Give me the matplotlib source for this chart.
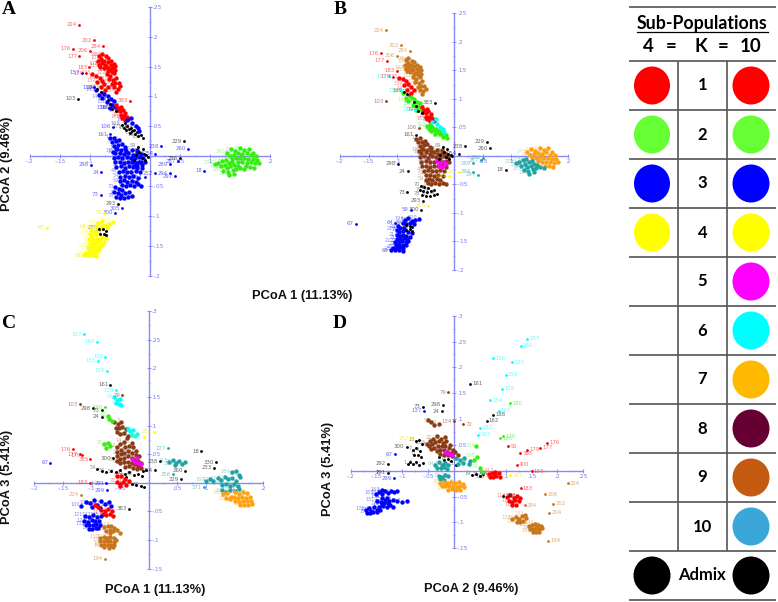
"""Four PCoA panels (A-D) with the sub-population key table on the right."""
import matplotlib
matplotlib.use("Agg")
import matplotlib.pyplot as plt
from matplotlib.patches import Ellipse

W, H = 778, 602
AXIS = "#8A8AF5"
COL = {"r": "#FF0000", "g": "#33EE11", "b": "#0000FF", "y": "#FFFF00", "m": "#FF00FF",
       "c": "#00FFFF", "o": "#FFA010", "8": "#8B3A14", "9": "#C8761C", "t": "#1FA3A3", "k": "#000000"}

# PCoA 1 / PCoA 2 clusters, shared by panels A and B
arm_top = [(-.085, .168), (-.08, .171), (-.074, .167), (-.086, .16), (-.081, .163), (-.076, .16), (-.07, .164),
           (-.065, .159), (-.085, .153), (-.08, .156), (-.075, .153), (-.07, .157), (-.065, .152), (-.06, .155),
           (-.083, .149), (-.077, .147), (-.072, .15), (-.067, .146), (-.062, .148), (-.058, .151), (-.07, .143),
           (-.063, .141), (-.058, .144)]
arm_mid = [(-.072, .138), (-.066, .135), (-.06, .139), (-.069, .129), (-.062, .128), (-.056, .131), (-.064, .121),
           (-.058, .122), (-.052, .123), (-.06, .115), (-.054, .113), (-.05, .117), (-.056, .108)]
arm_left = [(-.097, .137), (-.09, .134), (-.084, .131), (-.08, .126), (-.088, .124), (-.076, .12), (-.082, .115),
            (-.075, .111), (-.07, .116), (-.078, .106)]
arm_grey = [(-.09, .11), (-.085, .102), (-.08, .097), (-.076, .104), (-.07, .1), (-.065, .095), (-.072, .09),
            (-.064, .086), (-.06, .092), (-.058, .082), (-.067, .08)]
arm_black = [(-.088, .112), (-.082, .108), (-.07, .094), (-.066, .087), (-.063, .079), (-.056, .075)]
arm_red = [(-.056, .085), (-.052, .081), (-.048, .083), (-.055, .077), (-.05, .075), (-.045, .078), (-.041, .073),
           (-.049, .069), (-.044, .068), (-.039, .066), (-.036, .062), (-.042, .061), (-.047, .064)]
arm_low = [(-.047, .053), (-.042, .055), (-.044, .048), (-.038, .05), (-.035, .046), (-.04, .044), (-.031, .048),
           (-.03, .042), (-.026, .044), (-.033, .039), (-.025, .038), (-.021, .04), (-.02, .034), (-.015, .036),
           (-.012, .031)]
arm_low2 = [(-.03, .056), (-.024, .05), (-.02, .047), (-.018, .042), (-.038, .06), (-.032, .064)]
centre = [(-.055, .012), (-.041, .013), (-.03, .01), (-.021, .011), (-.058, .005), (-.05, .006), (-.043, .004),
          (-.036, .006), (-.029, .003), (-.022, .005), (-.015, .004), (-.06, -.002), (-.053, -.001), (-.046, -.003),
          (-.039, -.001), (-.032, -.002), (-.025, -.003), (-.018, -.001), (-.011, -.002), (-.058, -.01),
          (-.05, -.009), (-.043, -.011), (-.036, -.01), (-.029, -.008), (-.022, -.011), (-.015, -.009),
          (-.009, -.01), (-.056, -.018), (-.049, -.017), (-.042, -.019), (-.035, -.017), (-.028, -.018),
          (-.021, -.016), (-.014, -.019), (-.052, -.026), (-.045, -.025), (-.038, -.027), (-.031, -.026),
          (-.024, -.024), (-.017, -.027), (-.05, -.034), (-.042, -.033), (-.035, -.035), (-.028, -.033),
          (-.02, -.036)]
centre_up = [(-.066, .03), (-.06, .031), (-.064, .024), (-.057, .025), (-.051, .027), (-.06, .018), (-.053, .019),
             (-.047, .021), (-.042, .016), (-.056, .012), (-.048, .011), (-.04, .009), (-.062, .008)]
centre_low = [(-.05, -.042), (-.044, -.04), (-.038, -.043), (-.03, -.041), (-.024, -.043), (-.046, -.048),
              (-.04, -.05), (-.033, -.048), (-.027, -.05), (-.02, -.047), (-.015, -.05)]
lower_arm = [(-.058, -.052), (-.052, -.055), (-.046, -.057), (-.06, -.06), (-.054, -.062), (-.048, -.064),
             (-.041, -.062), (-.035, -.06), (-.057, -.068), (-.05, -.07), (-.043, -.07), (-.036, -.068),
             (-.03, -.066)]
centre_pink = [(-.03, -.009), (-.024, -.012), (-.018, -.01), (-.027, -.017), (-.021, -.019), (-.014, -.014)]
near_axis = [(-.02, .015), (-.012, .012), (-.018, .007), (-.01, .004), (-.006, .002), (-.003, -.001), (-.014, -.002),
             (-.009, -.006), (-.024, .002), (-.026, -.006)]
tail = [(-.086, -.112), (-.08, -.108), (-.074, -.114), (-.068, -.113), (-.062, -.11), (-.09, -.118), (-.084, -.12),
        (-.078, -.117), (-.071, -.12), (-.099, -.123), (-.094, -.127), (-.088, -.126), (-.08, -.134), (-.074, -.136)]
yellow = [(-.1, -.13), (-.096, -.134), (-.09, -.132), (-.101, -.138), (-.095, -.14), (-.089, -.139), (-.084, -.14),
          (-.1, -.145), (-.094, -.146), (-.088, -.144), (-.083, -.146), (-.077, -.143), (-.103, -.151), (-.097, -.151),
          (-.091, -.15), (-.085, -.151), (-.08, -.149), (-.102, -.157), (-.096, -.156), (-.09, -.156), (-.085, -.156),
          (-.107, -.161), (-.1, -.162), (-.095, -.16), (-.09, -.161), (-.11, -.165), (-.103, -.165), (-.096, -.165),
          (-.09, -.166)]
yellow_k = [(-.085, -.121), (-.078, -.122), (-.073, -.124), (-.084, -.13), (-.077, -.129), (-.073, -.132)]
green_r = [(.128, .006), (.135, .012), (.142, .009), (.15, .014), (.157, .011), (.165, .013), (.172, .006), (.133, .001),
           (.14, .003), (.147, .005), (.154, .004), (.161, .006), (.168, .002), (.176, .001), (.136, -.004),
           (.143, -.003), (.15, -.002), (.157, -.003), (.164, -.004), (.171, -.005), (.178, -.006), (.147, -.009),
           (.154, -.01), (.161, -.011), (.168, -.01), (.175, -.012), (.182, -.011), (.16, -.017), (.167, -.018),
           (.174, -.019)]
green_l = [(.108, -.013), (.114, -.011), (.12, -.008), (.126, -.006), (.118, -.017), (.125, -.014), (.131, -.011),
           (.137, -.009), (.128, -.019), (.134, -.017), (.14, -.014), (.146, -.016), (.122, -.024), (.13, -.026),
           (.138, -.023), (.144, -.021), (.15, -.019), (.157, -.021), (.132, -.031), (.14, -.029)]

# panel A/B clusters: points, colour in A, colour in B
AB_CLUSTERS = [(centre_up, "b", "8"), (centre, "b", "8"), (centre_low, "b", "8"), (lower_arm, "b", "k"),
               (centre_pink, "b", "m"), (near_axis, "k", "k"), (arm_top, "r", "9"), (arm_mid, "r", "9"),
               (arm_left, "r", "r"), (arm_grey, "b", "g"), (arm_red, "r", "r"), (arm_low, "k", "g"),
               (arm_low2, "b", "c"), (arm_black, "k", "k"), (tail, "y", "b"), (yellow, "y", "b"),
               (yellow_k, "k", "k"), (green_r, "g", "o"), (green_l, "g", "t")]
AB_IDS = ["224", "202", "284", "206", "176", "177", "183", "157", "179", "103", "383", "156", "158", "106", "161",
          "298", "24", "73", "293", "300", "305", "59", "67", "64", "69", "229", "260", "238", "254", "18", "252",
          "251", "287", "289", "294", "297", "296"]
AB_PC1 = [-.119, -.093, -.078, -.1, -.129, -.118, -.101, -.114, -.107, -.12, -.034, -.069, -.093, -.062, -.067,
          -.099, -.081, -.082, -.054, -.058, -.046, -.076, -.172, -.103, -.111, .057, .063, .019, .009, .09, .008,
          -.009, .047, .033, .033, .042, .05]
AB_PC2 = [.22, .194, .184, .176, .18, .167, .149, .14, .139, .096, .093, .081, .115, .049, .037, -.014, -.027, -.064,
          -.079, -.094, -.087, -.094, -.119, -.117, -.165, .025, .013, .017, .004, -.024, -.028, -.035, -.008,
          -.013, -.028, -.033, -.003]
A_ID_COL = list("rrrrrrrbrkrbbbbbbbkbbyyyykbbbbbbbbbbk")
B_ID_COL = list("9999rrrcr8kcc8kkkkkkybbbbkkkkkyytttttt"[:37])

# PCoA 1 / PCoA 3 clusters, panel C
c_brown = [(-.056, .062), (-.05, .068), (-.044, .072), (-.038, .078), (-.03, .07), (-.055, .054), (-.048, .058),
           (-.042, .062), (-.035, .065), (-.028, .062), (-.022, .056), (-.055, .046), (-.049, .05), (-.043, .052),
           (-.036, .055), (-.029, .052), (-.023, .048), (-.017, .046), (-.056, .038), (-.05, .042), (-.044, .044),
           (-.037, .046), (-.03, .044), (-.024, .04), (-.018, .038), (-.013, .035), (-.05, .034), (-.043, .036),
           (-.037, .037), (-.03, .035), (-.024, .032), (-.018, .03), (-.014, .026), (-.042, .028), (-.034, .029),
           (-.027, .026), (-.021, .024)]
c_brown_up = [(-.06, .106), (-.054, .103), (-.048, .107), (-.058, .096), (-.052, .095), (-.046, .098), (-.04, .094),
              (-.056, .088), (-.05, .086), (-.043, .087), (-.036, .082)]
c_pink = [(-.03, .042), (-.024, .036), (-.018, .035), (-.014, .032), (-.02, .044)]
c_black = [(-.09, .024), (-.082, .021), (-.074, .019), (-.066, .02), (-.058, .018), (-.05, .022), (-.042, .016),
           (-.034, .018), (-.026, .014), (-.018, .016), (-.01, .02), (-.005, .023), (-.03, -.002), (-.022, -.004),
           (-.014, -.005), (-.008, -.007), (-.04, .01), (-.012, .012)]
c_red_low = [(-.056, .002), (-.05, -.002), (-.045, .001), (-.04, -.004), (-.034, .004), (-.05, -.006), (-.042, .007),
             (-.056, .012), (-.048, .012)]
c_blue = [(-.112, -.058), (-.105, -.06), (-.098, -.057), (-.09, -.06), (-.084, -.058), (-.113, -.066), (-.107, -.068),
          (-.1, -.065), (-.094, -.067), (-.087, -.066), (-.11, -.073), (-.104, -.074), (-.098, -.073), (-.092, -.072),
          (-.086, -.074), (-.105, -.08), (-.099, -.081), (-.093, -.079), (-.088, -.079)]
c_blue_up = [(-.118, -.04), (-.11, -.033), (-.102, -.036), (-.096, -.03), (-.09, -.038), (-.083, -.032), (-.077, -.037),
             (-.07, -.034), (-.066, -.041), (-.1, -.043), (-.086, -.044)]
c_red = [(-.083, -.047), (-.077, -.05), (-.071, -.046), (-.065, -.049), (-.08, -.055), (-.074, -.057), (-.068, -.054),
         (-.063, -.058), (-.094, -.039), (-.088, -.042)]
c_9a = [(-.078, -.078), (-.072, -.075), (-.066, -.076), (-.06, -.079), (-.075, -.084), (-.068, -.083), (-.062, -.085),
        (-.055, -.083), (-.05, -.087), (-.068, -.088)]
c_9b = [(-.085, -.096), (-.079, -.095), (-.073, -.096), (-.067, -.095), (-.061, -.097), (-.085, -.102), (-.079, -.102),
        (-.073, -.102), (-.067, -.101), (-.061, -.103), (-.057, -.1), (-.084, -.108), (-.078, -.108), (-.072, -.108),
        (-.066, -.108), (-.06, -.109), (-.078, -.112), (-.07, -.113), (-.063, -.112)]
c_orange = [(.13, -.02), (.137, -.018), (.143, -.024), (.15, -.016), (.157, -.02), (.164, -.016), (.172, -.018),
            (.135, -.026), (.142, -.029), (.149, -.024), (.156, -.027), (.163, -.024), (.17, -.026), (.177, -.024),
            (.15, -.032), (.157, -.034), (.164, -.031), (.171, -.032), (.178, -.031), (.159, -.039), (.166, -.038),
            (.173, -.039), (.18, -.037)]
c_teal = [(.1, .003), (.107, .006), (.113, .004), (.12, .009), (.126, .005), (.133, .01), (.139, .006), (.146, .008),
          (.153, .004), (.16, .01), (.128, -.004), (.135, -.002), (.142, -.006), (.149, -.002), (.156, -.005),
          (.128, -.012), (.135, -.016), (.142, -.012), (.15, -.014), (.158, -.01), (.145, .018), (.152, .02),
          (.158, .014)]
c_teal_mid = [(.036, .036), (.042, .039), (.048, .035), (.053, .038), (.058, .033), (.063, .036), (.045, .031)]
c_cyan = [(-.06, .149), (-.055, .144), (-.05, .146), (-.058, .139), (-.052, .138), (-.048, .136)]
c_cyan2 = [(-.037, .094), (-.032, .09), (-.027, .092), (-.03, .084), (-.024, .082), (-.02, .086)]
c_green = [(-.078, .068), (-.072, .07), (-.068, .064), (-.074, .06), (-.07, .112), (-.064, .108), (-.072, .116)]

C_CLUSTERS = [(c_brown_up, "8"), (c_brown, "8"), (c_pink, "m"), (c_black, "k"), (c_red_low, "r"), (c_green, "g"),
              (c_cyan, "c"), (c_cyan2, "c"), (c_blue_up, "b"), (c_red, "r"), (c_blue, "b"), (c_9a, "9"), (c_9b, "9"),
              (c_teal, "t"), (c_orange, "o"), (c_teal_mid, "t")]
C_IDS = ["167", "160", "156", "155", "159", "161", "178", "79", "103", "298", "73", "24", "190", "176", "177", "179",
         "385", "67", "300", "183", "224", "194", "383", "252", "251", "227", "18", "330", "233", "238", "254", "260",
         "256", "229", "371", "291", "299"]
C_PC1 = [-.114, -.09, -.076, -.089, -.073, -.067, -.058, -.047, -.121, -.098, -.082, -.082, -.077, -.133, -.121, -.116,
         -.102, -.172, -.062, -.103, -.118, -.077, -.035, .009, -.009, .034, .091, .118, .114, .02, .01, .063, .042,
         .056, .097, -.074, -.073]
C_PC3 = [.259, .246, .22, .213, .196, .171, .162, .153, .137, .13, .127, .115, .132, .059, .05, .048, .041, .035, .043,
         0.0, -.021, -.133, -.045, .089, .08, .06, .055, .036, .026, .038, .022, .021, .015, .006, -.008, -.001, -.013]
C_ID_COL = list("ccccckc88kkkgrrrrbkr99kyytkkkkkktktbb"[:37])

# PCoA 2 / PCoA 3 clusters, panel D
d_blue = [(-.17, -.076), (-.165, -.072), (-.16, -.078), (-.155, -.07), (-.15, -.075), (-.145, -.07), (-.14, -.066),
          (-.168, -.081), (-.162, -.082), (-.156, -.079), (-.15, -.08), (-.143, -.075), (-.137, -.069), (-.13, -.07),
          (-.124, -.067), (-.118, -.071), (-.135, -.063), (-.128, -.062)]
d_blue2 = [(-.152, -.044), (-.146, -.041), (-.14, -.045), (-.134, -.04), (-.128, -.043), (-.122, -.039), (-.116, -.042),
           (-.11, -.04), (-.14, -.038)]
d_blue3 = [(-.15, -.058), (-.142, -.06), (-.134, -.057), (-.126, -.059), (-.118, -.056), (-.11, -.059), (-.1, -.06),
           (-.092, -.059), (-.14, -.052), (-.13, -.052)]
d_brown = [(-.052, .052), (-.046, .058), (-.04, .062), (-.033, .068), (-.025, .062), (-.018, .066), (-.048, .048),
           (-.042, .052), (-.036, .055), (-.029, .057), (-.022, .054), (-.015, .057), (-.008, .05), (-.045, .042),
           (-.038, .045), (-.031, .048), (-.024, .047), (-.017, .047), (-.01, .044), (-.003, .04), (-.034, .038),
           (-.027, .04), (-.02, .04), (-.013, .037), (-.006, .034), (.002, .036), (.008, .03), (-.028, .032),
           (-.02, .031), (-.012, .03), (-.004, .028), (-.05, .098), (-.044, .094), (-.038, .088), (-.03, .09)]
d_teal = [(-.036, .012), (-.03, .016), (-.024, .012), (-.018, .015), (-.012, .011), (-.033, .006), (-.026, .005),
          (-.019, .007), (-.013, .004), (-.03, -.01), (-.024, -.012), (-.018, -.009), (-.012, -.011), (-.027, -.016),
          (-.02, -.017), (.004, .024), (.012, .02), (.02, .024), (.03, .018), (.008, .014), (.018, .015), (.028, .013)]
d_orange = [(-.027, -.024), (-.02, -.021), (-.013, -.024), (-.006, -.021), (.002, -.024), (.01, -.022), (.018, -.025),
            (-.024, -.03), (-.017, -.029), (-.01, -.03), (-.003, -.029), (.005, -.031), (.012, -.03), (.02, -.031),
            (-.012, -.037), (-.004, -.036), (.004, -.037), (.012, -.038)]
d_red = [(.068, -.006), (.074, -.004), (.08, -.008), (.086, -.005), (.07, -.012), (.076, -.013), (.082, -.011),
         (.088, -.012), (.08, -.002)]
d_red2 = [(.103, -.05), (.109, -.047), (.115, -.052), (.121, -.049), (.127, -.052), (.106, -.058), (.112, -.06),
          (.118, -.057), (.125, -.059), (.112, -.066), (.119, -.067)]
d_9a = [(.113, -.094), (.119, -.09), (.125, -.094), (.131, -.088), (.137, -.086), (.14, -.092), (.122, -.1), (.128, -.099),
        (.134, -.097)]
d_9b = [(.145, -.106), (.151, -.104), (.157, -.103), (.163, -.104), (.169, -.106), (.147, -.112), (.153, -.112),
        (.159, -.11), (.165, -.112), (.171, -.111), (.152, -.118), (.158, -.118), (.164, -.118)]
d_black = [(-.09, .014), (-.085, .017), (-.079, .013), (-.073, .016), (-.067, .012), (-.061, .015), (-.08, .04),
           (-.073, .044), (-.066, .038), (-.077, .03), (-.07, .03), (-.064, .026), (-.074, .058), (-.067, .06),
           (-.062, .052), (-.02, .02), (-.012, .022), (-.006, .018), (.035, -.008), (.043, -.006), (.05, -.01),
           (.056, -.007), (.003, .012), (-.03, .026)]
d_green = [(.043, .047), (.038, .02), (.05, .005), (.056, -.002), (.044, .026)]
d_pink = [(-.018, .036), (-.012, .034), (-.008, .032), (-.004, .03)]

D_CLUSTERS = [(d_black, "k"), (d_brown, "8"), (d_pink, "m"), (d_teal, "t"), (d_orange, "o"), (d_green, "g"),
              (d_red, "r"), (d_red2, "r"), (d_9a, "9"), (d_9b, "9"), (d_blue3, "b"), (d_blue2, "b"), (d_blue, "b")]
D_IDS = ["187", "160", "156", "155", "159", "161", "158", "79", "73", "137", "24", "298", "72", "134", "252", "67", "300",
         "292", "291", "299", "224", "206", "202", "204", "194", "284", "176", "177", "179", "385", "91", "183", "383",
         "400", "103", "197", "190", "178", "180", "188", "162", "165", "154", "152", "163"]
D_PC2 = [.142, .129, .076, .113, .1, .031, .093, -.011, -.061, -.058, -.024, -.021, .018, -.001, -.084, -.115, -.092,
         -.128, -.128, -.117, .22, .176, .192, .184, .182, .137, .18, .166, .141, .128, .105, .129, .095, .121, .15,
         .108, .089, .095, .108, .076, .063, .086, .07, .05, .046]
D_PC3 = [.255, .242, .218, .21, .186, .168, .159, .152, .124, .116, .115, .128, .09, .096, .063, .032, .046, .014, -.004,
         -.014, -.024, -.045, -.064, -.081, -.135, -.067, .054, .045, .041, .034, .047, -.034, -.048, .012, -.001,
         -.009, .063, .067, .131, .108, .097, .116, .136, .083, .07]
D_ID_COL = list("ccccckc8kbkk88ybkkkb999999rrrrrrkrrygggkkcc c"[:45].replace(" ", "c"))

# key table
KEY_LEFT = ["#FF0000", "#66FF33", "#0000FF", "#FFFF00", None, None, None, None, None, None]
KEY_RIGHT = ["#FF0000", "#66FF33", "#0000FF", "#FFFF00", "#FF00FF", "#00FFFF", "#FFB900", "#660033", "#C55A11", "#3BA7D9"]
KEY_ROWS = ["1", "2", "3", "4", "5", "6", "7", "8", "9", "10"]
ROW_LINES = [7, 61, 110, 159, 208, 257, 306, 355, 404, 453, 502, 551, 600]


def make_axes(fig, left, top, right, bot, xlim, ylim, step=.05):
    ax = fig.add_axes([left / W, 1 - bot / H, (right - left) / W, (bot - top) / H])
    ax.set_xlim(*xlim); ax.set_ylim(*ylim)
    ax.patch.set_alpha(0)
    for s in ("left", "top"):
        ax.spines[s].set_visible(False)
    ax.spines["right"].set_position("zero"); ax.spines["bottom"].set_position("zero")
    ax.spines["right"].set_color(AXIS); ax.spines["bottom"].set_color(AXIS)
    ax.spines["right"].set_linewidth(1.0); ax.spines["bottom"].set_linewidth(1.0)
    ax.yaxis.tick_right()

    def fmt(v):
        return ("%.2f" % v).rstrip("0").replace("0.", ".", 1)

    xt = [round(xlim[0] + i * step, 2) for i in range(int(round((xlim[1] - xlim[0]) / step)) + 1)]
    yt = [round(ylim[0] + i * step, 2) for i in range(int(round((ylim[1] - ylim[0]) / step)) + 1)]
    xt = [v for v in xt if v != 0]; yt = [v for v in yt if v != 0]
    ax.set_xticks(xt, [fmt(v) for v in xt]); ax.set_yticks(yt, [fmt(v) for v in yt])
    ax.set_xticks([round(xlim[0] + i * step / 2, 3) for i in range(int(round((xlim[1] - xlim[0]) / step * 2)) + 1)], minor=True)
    ax.set_yticks([round(ylim[0] + i * step / 2, 3) for i in range(int(round((ylim[1] - ylim[0]) / step * 2)) + 1)], minor=True)
    ax.tick_params(which="major", length=2.5, width=.7, color=AXIS, labelcolor="#7C7CF0", labelsize=4.2,
                   direction="inout", pad=.8)
    ax.tick_params(which="minor", length=1.5, width=.5, color=AXIS, direction="inout")
    return ax


def draw_cluster(ax, pts, key, label_start):
    xs = [p[0] for p in pts]; ys = [p[1] for p in pts]
    ax.scatter(xs, ys, s=4.5 if key == "k" else 10, color=COL[key], linewidths=0, clip_on=False, zorder=3)
    for i, (x, y) in enumerate(pts):
        if i % 2 == 0:
            ax.annotate(str(label_start + i), (x, y), xytext=(-1, 1), textcoords="offset points", ha="right", va="center",
                        fontsize=3.6, color=COL[key], alpha=.45, zorder=2)


def draw_named(ax, ids, xs, ys, keys, side="left"):
    for name, x, y, key in zip(ids, xs, ys, keys):
        ax.scatter([x], [y], s=4, color=COL[key], linewidths=0, clip_on=False, zorder=4)
        right = side == "right" and x > 0
        ax.annotate(name, (x, y), xytext=(1.5 if right else -1.5, 0), textcoords="offset points",
                    ha="left" if right else "right", va="center", fontsize=3.9,
                    color=COL[key] if key != "y" else "#E8E000", alpha=.6, zorder=4)


def px_text(fig, x, y, s, **kw):
    fig.text(x / W, 1 - y / H, s, **kw)


def draw_key(fig):
    ax = fig.add_axes([0, 0, 1, 1]); ax.set_xlim(0, W); ax.set_ylim(H, 0); ax.axis("off")
    ax.patch.set_alpha(0)
    for y in ROW_LINES:
        ax.plot([629, 776], [y, y], color="#444444", lw=1.1, solid_capstyle="butt")
    for x in (678, 727):
        ax.plot([x, x], [61, 551], color="#555555", lw=1.2, solid_capstyle="butt")
    for i, row in enumerate(KEY_ROWS):
        y = (ROW_LINES[i + 1] + ROW_LINES[i + 2]) / 2
        if KEY_LEFT[i]:
            ax.add_patch(Ellipse((652, y), 36, 38, color=KEY_LEFT[i], lw=0))
        ax.add_patch(Ellipse((751, y), 37, 38, color=KEY_RIGHT[i], lw=0))
        ax.text(702.5, y, row, ha="center", va="center", fontsize=12, fontweight="bold", family="Lato")
    ax.add_patch(Ellipse((652, 575.5), 37, 38, color="black", lw=0))
    ax.add_patch(Ellipse((751, 575.5), 37, 38, color="black", lw=0))
    ax.text(702, 575, "Admix", ha="center", va="center", fontsize=12, fontweight="bold", family="Lato")
    ax.text(702.5, 23, "Sub-Populations", ha="center", va="center", fontsize=12.8, fontweight="bold", family="Lato")
    ax.plot([637, 768], [32, 32], color="black", lw=.9)
    for x, s in zip((648, 671, 701, 723, 751), ("4", "=", "K", "=", "10")):
        ax.text(x, 47, s, ha="center", va="center", fontsize=13.5, fontweight="bold", family="Lato")


def main():
    fig = plt.figure(figsize=(W / 100, H / 100), dpi=100, facecolor="white")

    ax = make_axes(fig, 30, 6.7, 270, 276, (-.2, .2), (-.2, .25))
    n = 1
    for pts, ca, _ in AB_CLUSTERS:
        draw_cluster(ax, pts, ca, n); n += len(pts)
    draw_named(ax, AB_IDS, AB_PC1, AB_PC2, A_ID_COL)

    ax = make_axes(fig, 340, 13.3, 568.3, 270, (-.2, .2), (-.2, .25))
    n = 1
    for pts, _, cb in AB_CLUSTERS:
        draw_cluster(ax, pts, cb, n); n += len(pts)
    draw_named(ax, AB_IDS, AB_PC1, AB_PC2, B_ID_COL)

    ax = make_axes(fig, 34.3, 311, 263.3, 568.7, (-.2, .2), (-.15, .3))
    n = 1
    for pts, key in C_CLUSTERS:
        draw_cluster(ax, pts, key, n); n += len(pts)
    draw_named(ax, C_IDS, C_PC1, C_PC3, C_ID_COL)

    ax = make_axes(fig, 350.7, 315.7, 583.3, 548.3, (-.2, .25), (-.15, .3))
    n = 1
    for pts, key in D_CLUSTERS:
        draw_cluster(ax, pts, key, n); n += len(pts)
    draw_named(ax, D_IDS, D_PC2, D_PC3, D_ID_COL, side="right")

    for x, y, s in ((9, 10, "A"), (340, 9, "B"), (9, 323, "C"), (340, 323, "D")):
        px_text(fig, x, y, s, ha="center", va="center", fontsize=14, fontweight="bold", family="Liberation Serif")
    lab = dict(fontsize=9.3, fontweight="bold", family="Liberation Sans", color="#111111", ha="center", va="center")
    px_text(fig, 302.5, 296, "PCoA 1 (11.13%)", **lab)
    px_text(fig, 155.5, 590, "PCoA 1 (11.13%)", **lab)
    px_text(fig, 471.5, 589, "PCoA 2 (9.46%)", **lab)
    px_text(fig, 7, 163.5, "PCoA 2 (9.46%)", rotation=90, **lab)
    px_text(fig, 7, 477, "PCoA 3 (5.41%)", rotation=90, **lab)
    px_text(fig, 328, 469, "PCoA 3 (5.41%)", rotation=90, **lab)

    draw_key(fig)
    fig.savefig("out.png", dpi=100)
    plt.close(fig)


if __name__ == "__main__":
    main()
